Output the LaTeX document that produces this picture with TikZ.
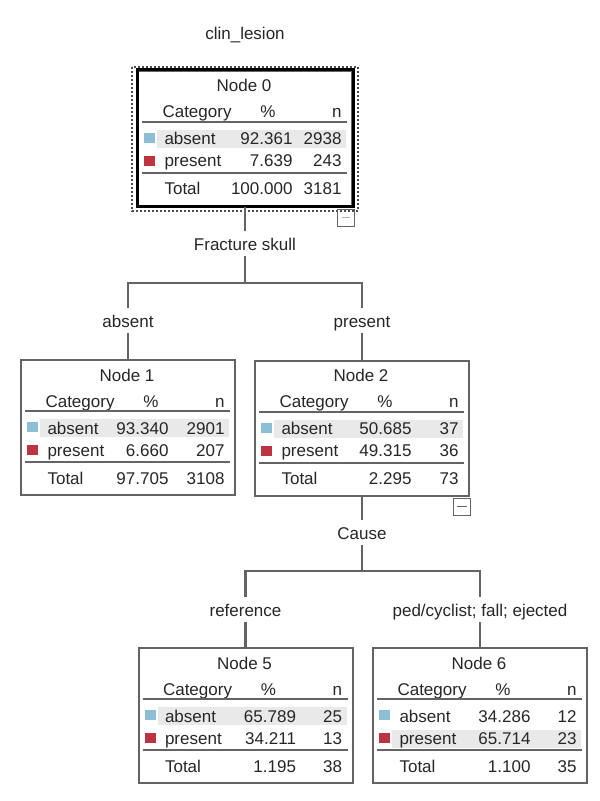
\documentclass[tikz,border=0pt]{standalone}
\usepackage{fontspec}
\setmainfont{Liberation Sans}
\definecolor{spssBlue}{RGB}{140,190,212}
\definecolor{spssRed}{RGB}{188,52,64}
\definecolor{spssLine}{RGB}{100,100,100}
\definecolor{spssHl}{RGB}{233,233,233}
\usetikzlibrary{positioning,calc}

\begin{document}
\begin{tikzpicture}[x=1pt, y=-1pt,
    every node/.style={font=\fontsize{17}{20}\selectfont, text=black!85},
    treebox/.style={draw=spssLine, line width=2pt, minimum width=214pt, minimum height=135pt, inner sep=0pt},
    edge/.style={draw=spssLine, line width=2.2pt},
    rule/.style={draw=spssLine, line width=2pt},
    split/.style={anchor=base, text height=12.5pt, text depth=0pt, inner xsep=2pt, inner ysep=6pt},
    toggle/.style={draw=spssLine, line width=1.3pt, minimum size=17pt, inner sep=0pt, anchor=north east}]
  \useasboundingbox (0,0) rectangle (600,801);
  \node[anchor=base] (title) at (245,39) {clin\_lesion};
  % Tree nodes: name/centre/absent/present/total/highlighted row/% column
  \foreach \t/\cx/\cy/\ap/\an/\pp/\pn/\tp/\tn/\hl/\pc in {
      0/245/138/92.361/2938/7.639/243/100.000/3181/69/159,
      1/128/427.5/93.340/2901/6.660/207/97.705/3108/69/152,
      2/362/428/50.685/37/49.315/36/2.295/73/69/161,
      5/245.5/715.5/65.789/25/34.211/13/1.195/38/69/162,
      6/480/715.5/34.286/12/65.714/23/1.100/35/92/162} {
    \node[treebox] (n\t) at (\cx,\cy) {};
    \begin{scope}[shift={(n\t.north west)}]
      \fill[spssHl] (20,\hl-9) rectangle (209,\hl+9);
      \node[anchor=base] at (107,22) {Node \t};
      \node[anchor=base west] at (22,48) {Category};
      \node[anchor=base] at (131,48) {\%};
      \node[anchor=base east] at (208,48) {n};
      \draw[rule] (5,52) -- (210,52);
      \fill[spssBlue] (7,63) rectangle (18,73);
      \node[anchor=base west] at (24,75) {absent};
      \node[anchor=base east] at (\pc,75) {\ap};
      \node[anchor=base east] at (208,75) {\an};
      \fill[spssRed] (7,86) rectangle (18,96);
      \node[anchor=base west] at (24,97) {present};
      \node[anchor=base east] at (\pc,97) {\pp};
      \node[anchor=base east] at (208,97) {\pn};
      \draw[rule] (5,103) -- (210,103);
      \node[anchor=base west] at (24,125) {Total};
      \node[anchor=base east] at (\pc,125) {\tp};
      \node[anchor=base east] at (208,125) {\tn};
    \end{scope}
  }
  % Root node frame
  \draw[black, line width=3pt] (n0.north west) rectangle (n0.south east);
  \draw[black!70, line width=2pt, dash pattern=on 2pt off 2pt]
    ($(n0.north west)+(-5,-3)$) rectangle ($(n0.south east)+(5,4)$);
  % Collapse toggles
  \node[toggle] (t0) at ($(n0.south east)+(2,2)$) {};
  \draw[spssLine!50, line width=1.3pt] ($(t0.west)+(5,0)$) -- ($(t0.east)+(-5,0)$);
  \node[toggle] (t2) at ($(n2.south east)+(1,1)$) {};
  \draw[spssLine, line width=1.5pt] ($(t2.west)+(4,0)$) -- ($(t2.east)+(-4,0)$);
  % First split
  \node[split] (fs) at (245,250) {Fracture skull};
  \node[split] (s1) at (128,327) {absent};
  \node[split] (s2) at (362,327) {present};
  \coordinate (j1) at (245,283);
  \draw[edge] (n0) -- (fs);
  \draw[edge] (fs) -- (j1);
  \draw[edge] (s1) |- (j1) -| (s2);
  \draw[edge] (s1) -- (n1);
  \draw[edge] (s2) -- (n2);
  % Second split
  \node[split] (ca) at (362,539) {Cause};
  \node[split] (s5) at (245.5,616) {reference};
  \node[split] (s6) at (480,616) {ped/cyclist; fall; ejected};
  \coordinate (j2) at (362,571);
  \draw[edge] (n2) -- (ca);
  \draw[edge] (ca) -- (j2);
  \draw[edge] (s5) |- (j2) -| (s6);
  \draw[edge] (s5) -- (n5);
  \draw[edge] (s6) -- (n6);
\end{tikzpicture}
\end{document}
